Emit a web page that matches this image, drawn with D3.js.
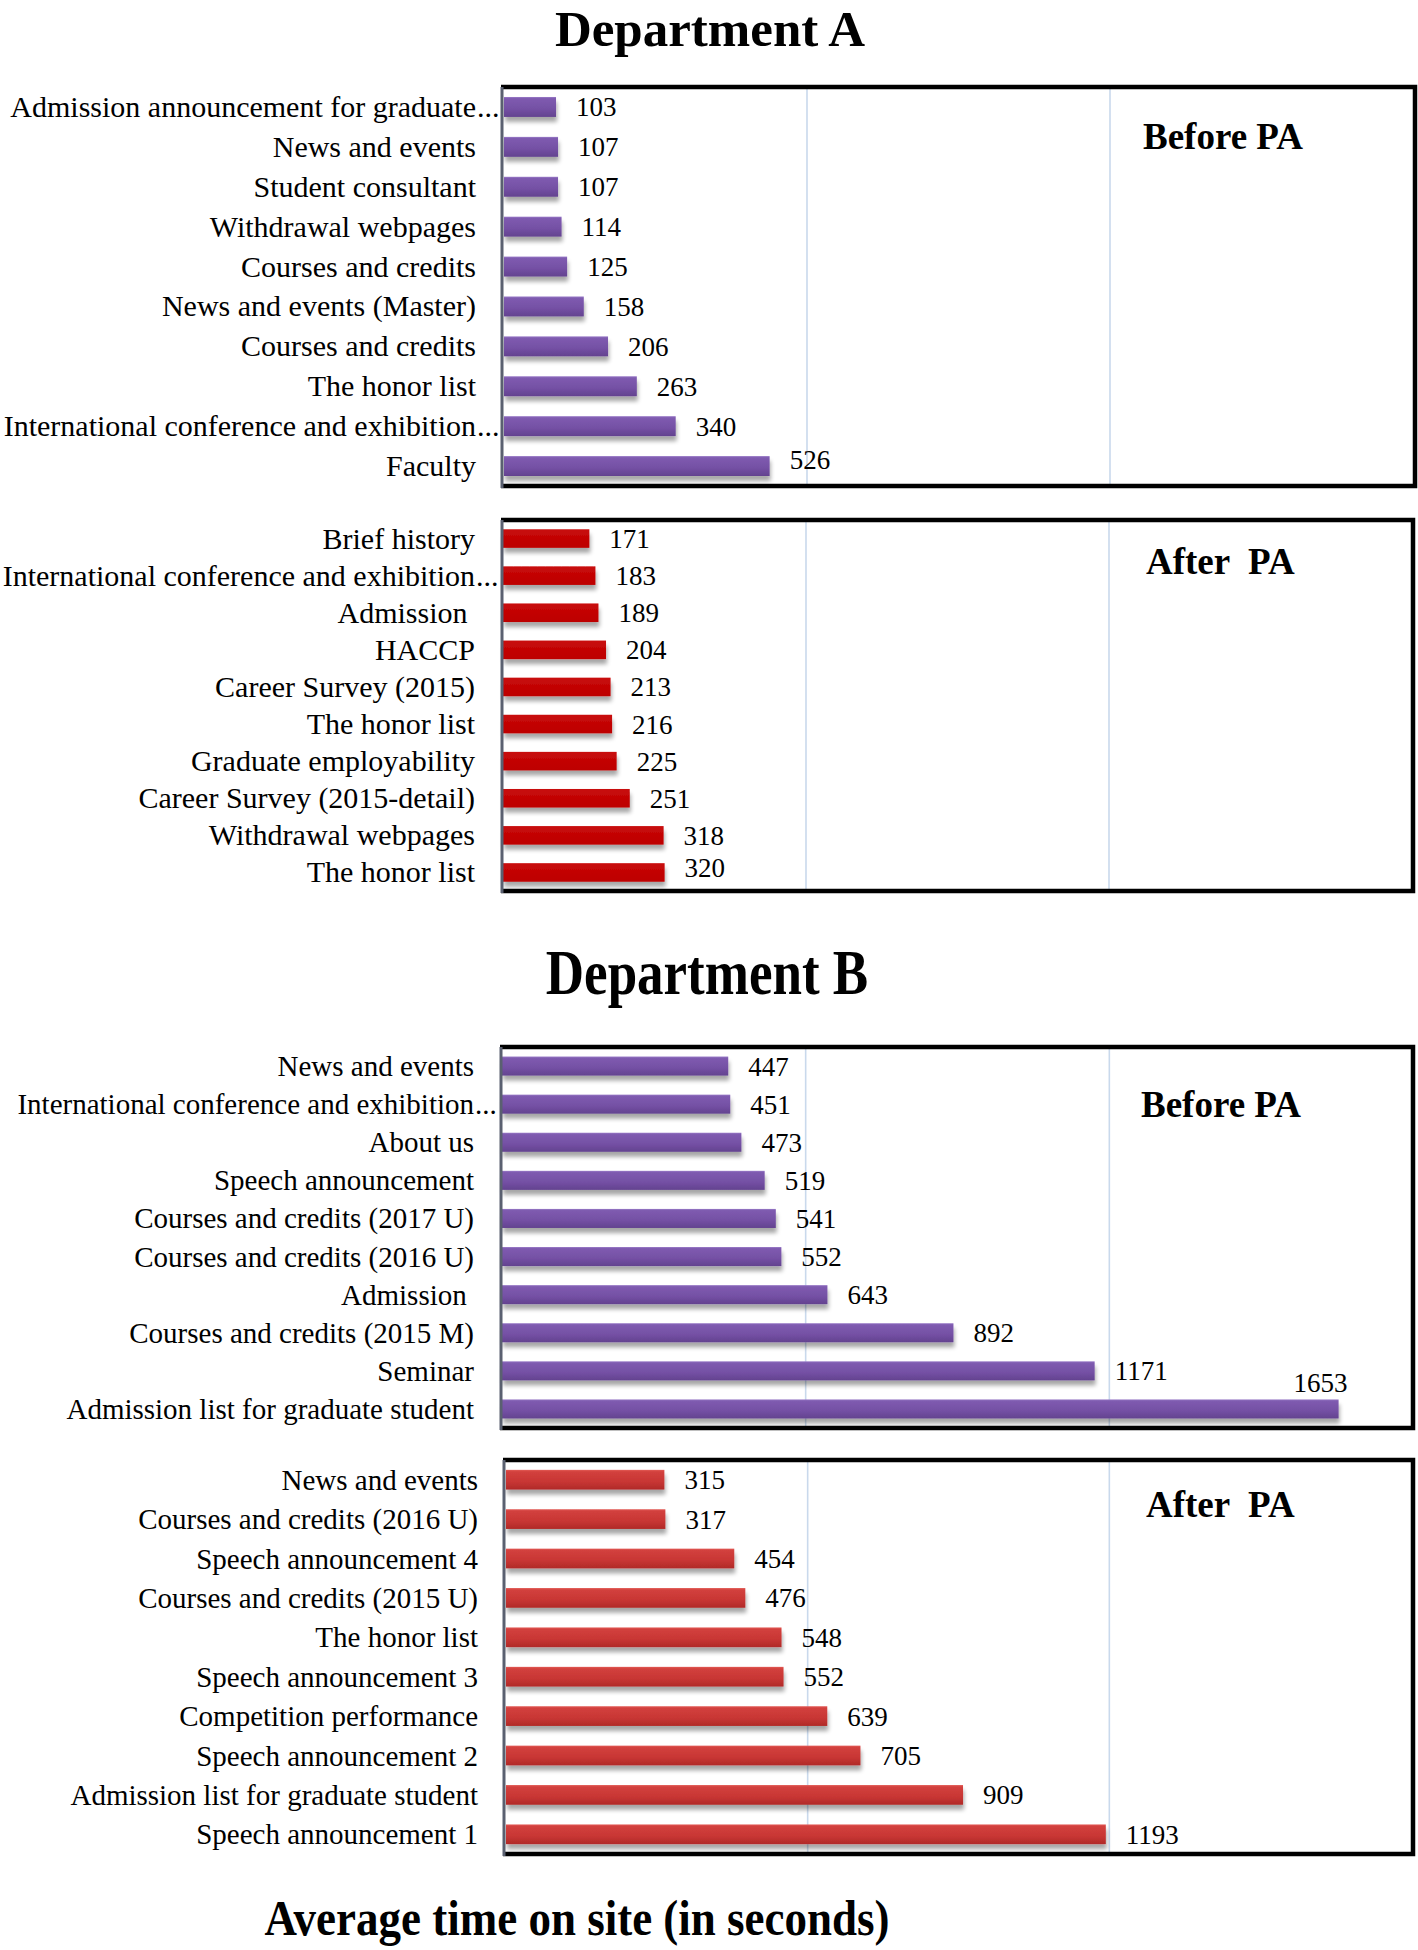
<!DOCTYPE html>
<html>
<head>
<meta charset="utf-8">
<script src="https://cdn.jsdelivr.net/npm/d3@7"></script>
<style>
  html, body { margin: 0; padding: 0; background: #ffffff; }
  svg { display: block; }
  text { font-family: "Liberation Serif", "Times New Roman", serif; fill: #000; white-space: pre; }
</style>
</head>
<body>
<svg id="chart" width="1418" height="1950"></svg>
<script>
// ---------------- DATA ----------------
const titles = ["Department A", "Department B"];
const xAxisTitle = "Average time on site (in seconds)";
const panelNames = ["Before PA", "After  PA"];
const xTicks = [600, 1200];
const xMax = 1800;

const deptABeforeLabels = ["Admission announcement for graduate…", "News and events", "Student consultant", "Withdrawal webpages", "Courses and credits", "News and events (Master)", "Courses and credits", "The honor list", "International conference and exhibition…", "Faculty"];
const deptABeforeValues = [103, 107, 107, 114, 125, 158, 206, 263, 340, 526];

const deptAAfterLabels = ["Brief history", "International conference and exhibition…", "Admission ", "HACCP", "Career Survey (2015)", "The honor list", "Graduate employability", "Career Survey (2015-detail)", "Withdrawal webpages", "The honor list"];
const deptAAfterValues = [171, 183, 189, 204, 213, 216, 225, 251, 318, 320];

const deptBBeforeLabels = ["News and events", "International conference and exhibition…", "About us", "Speech announcement", "Courses and credits (2017 U)", "Courses and credits (2016 U)", "Admission ", "Courses and credits (2015 M)", "Seminar", "Admission list for graduate student"];
const deptBBeforeValues = [447, 451, 473, 519, 541, 552, 643, 892, 1171, 1653];

const deptBAfterLabels = ["News and events", "Courses and credits (2016 U)", "Speech announcement 4", "Courses and credits (2015 U)", "The honor list", "Speech announcement 3", "Competition performance", "Speech announcement 2", "Admission list for graduate student", "Speech announcement 1"];
const deptBAfterValues = [315, 317, 454, 476, 548, 552, 639, 705, 909, 1193];

// ---------------- LAYOUT ----------------
const svg = d3.select("#chart");
const defs = svg.append("defs");

function grad(id, stops) {
  const g = defs.append("linearGradient").attr("id", id)
    .attr("x1", 0).attr("y1", 0).attr("x2", 0).attr("y2", 1);
  stops.forEach(s => g.append("stop").attr("offset", s[0]).attr("stop-color", s[1]));
}
grad("gPurple", [[0, "#9a7cc8"], [0.08, "#7f5bb0"], [0.6, "#7450a4"], [1, "#63428f"]]);
grad("gRedFlat", [[0, "#c80a0a"], [1, "#bd0000"]]);
grad("gRed", [[0, "#e25a56"], [0.1, "#d2403d"], [0.6, "#c83634"], [1, "#b02a28"]]);

const shadow = defs.append("filter").attr("id", "shadow")
  .attr("x", "-5%").attr("y", "-30%").attr("width", "115%").attr("height", "190%");
shadow.append("feGaussianBlur").attr("in", "SourceAlpha").attr("stdDeviation", 2).attr("result", "b");
shadow.append("feOffset").attr("in", "b").attr("dx", 1).attr("dy", 5).attr("result", "o");
shadow.append("feComponentTransfer").attr("in", "o").attr("result", "s")
  .append("feFuncA").attr("type", "linear").attr("slope", 0.35);
const merge = shadow.append("feMerge");
merge.append("feMergeNode").attr("in", "s");
merge.append("feMergeNode").attr("in", "SourceGraphic");

const panels = [
  { labels: deptABeforeLabels, values: deptABeforeValues, name: panelNames[0],
    box: [501, 87, 1415, 486], xr: [504, 1413], fill: "url(#gPurple)",
    head: [1143, 149], catFont: 30, lastDy: -7 },
  { labels: deptAAfterLabels, values: deptAAfterValues, name: panelNames[1],
    box: [501, 520, 1413, 891], xr: [503, 1412], fill: "url(#gRedFlat)",
    head: [1146, 574], catFont: 30, lastDy: -5 },
  { labels: deptBBeforeLabels, values: deptBBeforeValues, name: panelNames[0],
    box: [500, 1047, 1413, 1428], xr: [502, 1413], fill: "url(#gPurple)",
    head: [1141, 1117], catFont: 29, lastDy: 0 },
  { labels: deptBAfterLabels, values: deptBAfterValues, name: panelNames[1],
    box: [503, 1460, 1413, 1854], xr: [506, 1411], fill: "url(#gRed)",
    head: [1146, 1517], catFont: 29, lastDy: 0 }
];

panels.forEach(p => {
  const [bx0, by0, bx1, by1] = p.box;
  const g = svg.append("g");
  const x = d3.scaleLinear().domain([0, xMax]).range(p.xr);
  const idx = d3.range(p.values.length);
  const y = d3.scaleBand().domain(idx).range([by0, by1]).paddingInner(0.5).paddingOuter(0.25);

  // gridlines
  g.selectAll("line.grid").data(xTicks).enter().append("line")
    .attr("x1", d => x(d)).attr("x2", d => x(d))
    .attr("y1", by0).attr("y2", by1)
    .attr("stroke", "#c9d9ec").attr("stroke-width", 1.6);

  // bars
  g.selectAll("rect.bar").data(idx).enter().append("rect")
    .attr("x", x(0))
    .attr("y", i => y(i))
    .attr("width", i => x(p.values[i]) - x(0))
    .attr("height", y.bandwidth())
    .attr("fill", p.fill)
    .attr("filter", "url(#shadow)");

  // value labels
  const vf = 27;
  idx.forEach(i => {
    const v = p.values[i];
    const xe = x(v);
    const cy = y(i) + y.bandwidth() / 2;
    const estW = String(v).length * vf * 0.5;
    const t = g.append("text").attr("font-size", vf).text(v);
    if (xe + 18 + estW > x(xMax) - 60) {
      t.attr("x", xe + 9).attr("y", cy - 17).attr("text-anchor", "end");
    } else {
      const dy = (i === idx.length - 1) ? p.lastDy : 0;
      t.attr("x", xe + 20).attr("y", cy + 9.5 + dy);
    }
  });

  // category labels
  const lx = x(0) - 28;
  idx.forEach(i => {
    let lab = p.labels[i];
    const cy = y(i) + y.bandwidth() / 2 + 10;
    if (lab.endsWith("…")) {
      lab = lab.slice(0, -1);
      g.append("text").attr("x", lx + 1).attr("y", cy).attr("font-size", p.catFont).text("...");
    }
    g.append("text").attr("x", lx).attr("y", cy)
      .attr("text-anchor", "end").attr("font-size", p.catFont).text(lab);
  });

  // frame
  g.append("path")
    .attr("d", `M${bx0},${by0} H${bx1} V${by1} H${bx0}`)
    .attr("fill", "none").attr("stroke", "#000").attr("stroke-width", 4.5);
  g.append("line")
    .attr("x1", bx0 + 1).attr("x2", bx0 + 1).attr("y1", by0).attr("y2", by1 + 2)
    .attr("stroke", "#5a6070").attr("stroke-width", 3);

  // panel header
  g.append("text").attr("x", p.head[0]).attr("y", p.head[1])
    .attr("font-size", 37).attr("font-weight", "bold").text(p.name);
});

// titles
function bigTitle(txt, cx, base, size, sy) {
  svg.append("text")
    .attr("transform", `translate(${cx},${base}) scale(1,${sy})`)
    .attr("text-anchor", "middle").attr("font-weight", "bold")
    .attr("font-size", size).text(txt);
}
bigTitle(titles[0], 710, 46, 51, 1.0);
bigTitle(titles[1], 707, 994, 53, 1.2);
bigTitle(xAxisTitle, 577, 1935, 45, 1.12);
</script>
</body>
</html>
